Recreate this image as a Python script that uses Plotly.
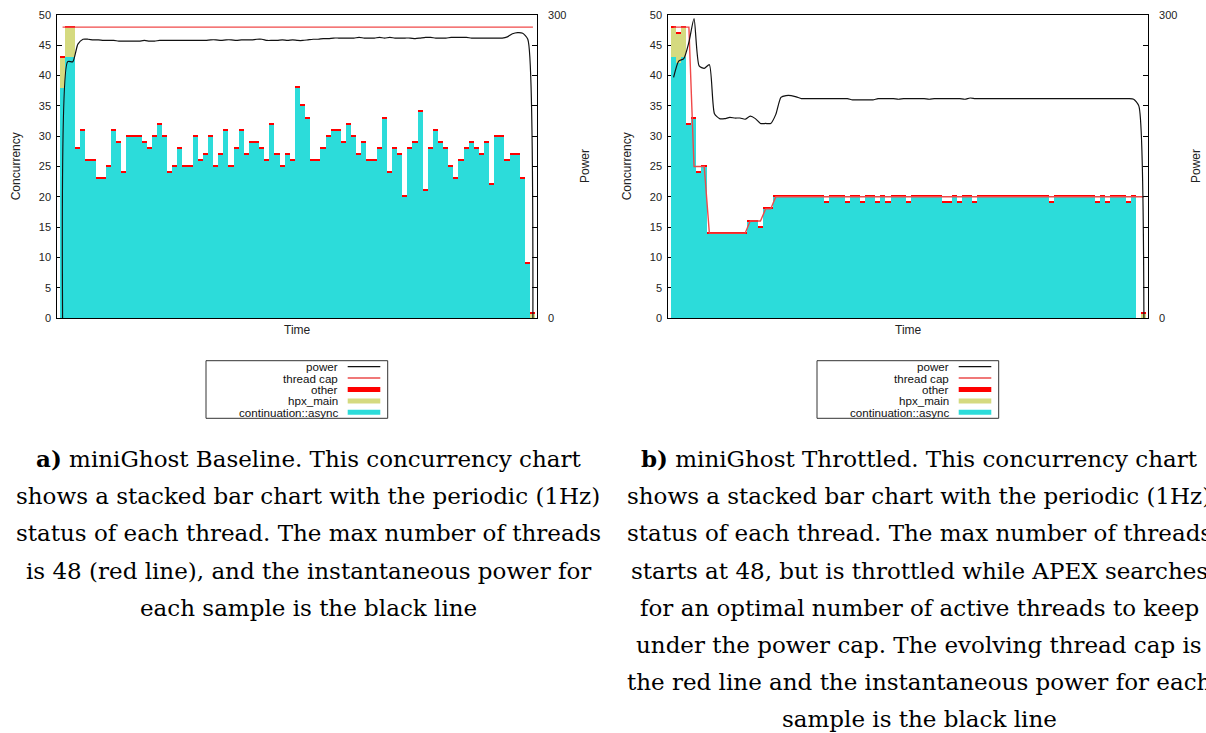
import plotly.graph_objects as go

W, H = 1206, 733

# one sample per second, both runs
t = list(range(93))

# ---- (a) baseline run -------------------------------------------------
base_async = [38, 43, 43,
              28, 31, 26, 26, 23, 23, 25, 31, 29, 24,
              30, 30, 30, 29, 28, 30, 32, 30, 24, 25,
              28, 25, 25, 30, 26, 27, 30, 25, 27, 31,
              25, 28, 31, 27, 29, 29, 28, 26, 32, 27,
              25, 27, 26, 38, 35, 33, 26, 26, 28, 30,
              31, 31, 29, 32, 30, 27, 29, 26, 26, 28,
              33, 24, 28, 27, 20, 28, 29, 34, 21, 28,
              31, 29, 28, 25, 23, 26, 28, 29, 28, 27,
              29, 22, 30, 30, 26, 27, 27, 23, 9, 0]
base_hpx = [5, 5, 5] + [0] * 89 + [0.75]
base_other = [0.25] * 93
base_cap = [48] * 93
base_power = [0.0, 253.8, 253.8, 271.2, 276.0, 276.0, 275.4, 275.4, 274.8, 274.8,
              274.8, 274.2, 274.2, 274.2, 274.2, 274.2, 274.8, 274.2, 274.2, 274.8,
              274.8, 274.8, 274.8, 274.8, 274.8, 274.8, 274.8, 274.8, 274.8, 275.4,
              275.4, 274.8, 275.4, 275.4, 274.8, 275.4, 275.4, 275.4, 276.0, 276.0,
              274.8, 274.8, 274.8, 275.4, 274.8, 275.4, 274.8, 274.8, 275.4, 276.0,
              276.0, 276.6, 276.6, 277.2, 277.2, 277.2, 277.2, 277.2, 277.8, 277.2,
              277.2, 277.2, 277.8, 277.2, 277.8, 277.2, 277.2, 277.2, 277.2, 276.6,
              277.2, 277.8, 277.8, 277.2, 277.2, 277.2, 277.8, 277.8, 277.8, 277.8,
              277.2, 277.2, 277.2, 277.2, 277.2, 277.2, 277.2, 278.4, 281.4, 282.6,
              282.0, 276.0, 0.0]

# ---- (b) throttled run ------------------------------------------------
thr_async = ([43, 42, 43, 32, 33, 24, 25] + [14] * 8 + [16, 16, 15, 18, 18]
             + [20] * 10 + [19, 20, 20, 20, 19, 20, 20, 19, 20, 20, 19, 20, 19,
                            20, 20, 20, 19] + [20] * 6 + [19, 19, 20, 19, 20, 20, 19]
             + [20] * 14 + [19] + [20] * 8 + [19, 20, 19, 20, 20, 20, 19, 20, 0, 0])
thr_hpx = [5, 5, 5] + [0] * 89 + [0.75]
thr_other = [0.25] * 91 + [0, 0.25]
thr_cap = [48, 48, 48, 48, 25, 25, 25] + [14] * 8 + [16, 16, 16, 18, 18] + [20] * 73
thr_power = ([238.2, 254.4, 256.8, 273.0, 296.4, 249.6, 247.2, 250.8, 202.2, 197.4,
              197.4, 198.6, 198.0, 198.0, 196.8, 199.8, 197.4, 192.6, 192.6, 192.6,
              201.6, 218.4, 220.2, 220.2, 219.0, 217.2]
             + [217.2] * 9 + [216.0] * 5 + [217.2] * 4 + [216.6] + [217.2] * 5
             + [216.6] + [217.2] * 6 + [216.6, 217.8] + [217.2] * 31
             + [216.6, 210.0, 0.0])

C_ASYNC = "#2cdcda"
C_HPX = "#d5da80"
C_OTHER = "#ff0000"
C_CAP = "#f04848"
C_POWER = "#111111"
SANS = "Liberation Sans, Arial, sans-serif"
SERIF = "DejaVu Serif, serif"

fig = go.Figure()


def add_run(async_v, hpx_v, other_v, cap_v, power_v, xa, ya, ya2):
    fig.add_trace(go.Bar(x=t, y=async_v, marker=dict(color=C_ASYNC, line=dict(width=0)),
                         xaxis=xa, yaxis=ya, name="continuation::async"))
    fig.add_trace(go.Bar(x=t, y=hpx_v, marker=dict(color=C_HPX, line=dict(width=0)),
                         xaxis=xa, yaxis=ya, name="hpx_main"))
    fig.add_trace(go.Bar(x=t, y=other_v, marker=dict(color=C_OTHER, line=dict(width=0)),
                         xaxis=xa, yaxis=ya, name="other"))
    fig.add_trace(go.Scatter(x=t, y=cap_v, mode="lines", line=dict(color=C_CAP, width=1.4),
                             xaxis=xa, yaxis=ya, name="thread cap"))
    fig.add_trace(go.Scatter(x=t, y=power_v, mode="lines",
                             line=dict(color=C_POWER, width=1.2, shape="spline", smoothing=0.6),
                             xaxis=xa, yaxis=ya2, name="power"))


add_run(base_async, base_hpx, base_other, base_cap, base_power, "x", "y", "y2")
add_run(thr_async, thr_hpx, thr_other, thr_cap, thr_power, "x2", "y3", "y4")

PLOT_TOP, PLOT_BOT = 15, 318
LEFTS = [57.3, 668.3]
PW = 479.6


def px(x):
    return x / W


def py(y):
    return 1 - y / H


ydom = [py(PLOT_BOT), py(PLOT_TOP)]
xr = [-1.03, 92.78]
conc_ticks = list(range(0, 51, 5))
pow_ticks = list(range(0, 301, 30))
pow_text = ["0"] + [""] * 9 + ["300"]

common_x = dict(range=xr, showline=True, mirror=True, linecolor="#000", linewidth=1,
                showticklabels=False, ticks="", showgrid=False, zeroline=False,
                automargin=False)
common_y = dict(range=[0, 50], domain=ydom, tickvals=conc_ticks, ticks="inside", ticklen=5,
                tickcolor="#000", showline=True, linecolor="#000", linewidth=1,
                showgrid=False, zeroline=False, layer="below traces", automargin=False,
                ticklabelstandoff=3,
                tickfont=dict(family=SANS, size=11, color="#222"))
common_y2 = dict(range=[0, 300], tickvals=pow_ticks, ticktext=pow_text, ticks="inside",
                 ticklen=5, tickcolor="#000", showline=True, linecolor="#000", linewidth=1,
                 showgrid=False, zeroline=False, side="right", automargin=False,
                 ticklabelstandoff=8,
                 tickfont=dict(family=SANS, size=11, color="#222"))

fig.update_layout(
    width=W, height=H, autosize=False,
    margin=dict(l=0, r=0, t=0, b=0, autoexpand=False),
    paper_bgcolor="white", plot_bgcolor="white",
    barmode="stack", bargap=0, showlegend=False,
    xaxis=dict(domain=[px(LEFTS[0]), px(LEFTS[0] + PW)], anchor="y", **common_x),
    yaxis=dict(anchor="x", **common_y),
    yaxis2=dict(anchor="x", overlaying="y", **common_y2),
    xaxis2=dict(domain=[px(LEFTS[1]), px(LEFTS[1] + PW)], anchor="y3", **common_x),
    yaxis3=dict(anchor="x2", **common_y),
    yaxis4=dict(anchor="x2", overlaying="y3", **common_y2),
)

ann = []
shapes = []
for lx, pwr_x in zip(LEFTS, [585, 1196]):
    ann.append(dict(x=px(lx + PW / 2), y=py(330), xref="paper", yref="paper", text="Time",
                    showarrow=False, font=dict(family=SANS, size=12, color="#222"),
                    xanchor="center", yanchor="middle"))
    ann.append(dict(x=px(lx - 41), y=py(166), xref="paper", yref="paper", text="Concurrency",
                    showarrow=False, textangle=-90, font=dict(family=SANS, size=12, color="#222"),
                    xanchor="center", yanchor="middle"))
    ann.append(dict(x=px(pwr_x), y=py(166), xref="paper", yref="paper", text="Power",
                    showarrow=False, textangle=-90, font=dict(family=SANS, size=12, color="#222"),
                    xanchor="center", yanchor="middle"))

    # key box under each chart
    bx0, bx1 = lx + 148.7, lx + 330.4
    shapes.append(dict(type="rect", xref="paper", yref="paper", x0=px(bx0), x1=px(bx1),
                       y0=py(418.3), y1=py(360.7), line=dict(color="#333", width=1)))
    keys = [("power", C_POWER, 1.2), ("thread cap", "#f07878", 2),
            ("other", C_OTHER, 5), ("hpx_main", C_HPX, 5),
            ("continuation::async", C_ASYNC, 5)]
    for k, (label, col, lw) in enumerate(keys):
        yy = 366.7 + k * 11.4
        ann.append(dict(x=px(lx + 283), y=py(yy), xref="paper", yref="paper", text=label,
                        showarrow=False, font=dict(family=SANS, size=11.6, color="#111"),
                        xanchor="right", yanchor="middle"))
        shapes.append(dict(type="line", xref="paper", yref="paper",
                           x0=px(lx + 290.4), x1=px(lx + 323), y0=py(yy), y1=py(yy),
                           line=dict(color=col, width=lw)))

cap_a = ["<b>a)</b> miniGhost Baseline. This concurrency chart",
         "shows a stacked bar chart with the periodic (1Hz)",
         "status of each thread. The max number of threads",
         "is 48 (red line), and the instantaneous power for",
         "each sample is the black line"]
cap_b = ["<b>b)</b> miniGhost Throttled. This concurrency chart",
         "shows a stacked bar chart with the periodic (1Hz)",
         "status of each thread. The max number of threads",
         "starts at 48, but is throttled while APEX searches",
         "for an optimal number of active threads to keep",
         "under the power cap. The evolving thread cap is",
         "the red line and the instantaneous power for each",
         "sample is the black line"]
for cx, lines in [(308, cap_a), (919, cap_b)]:
    for k, line in enumerate(lines):
        ann.append(dict(x=px(cx), y=py(459 + k * 37.2), xref="paper", yref="paper", text=line,
                        showarrow=False, font=dict(family=SERIF, size=23, color="#000"),
                        xanchor="center", yanchor="middle"))

fig.update_layout(annotations=ann, shapes=shapes)
fig.write_html("out.html")
